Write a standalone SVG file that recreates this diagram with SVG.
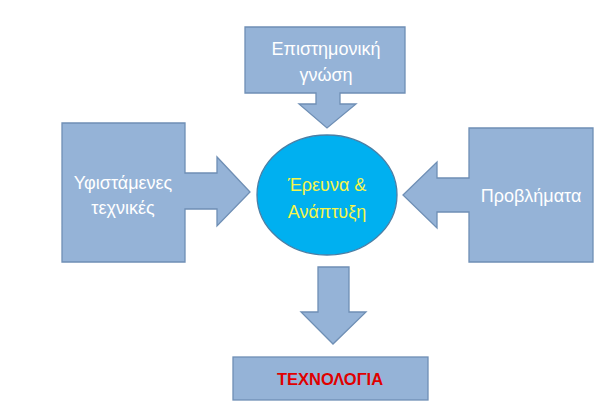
<svg xmlns="http://www.w3.org/2000/svg" width="608" height="416" viewBox="0 0 608 416">
<style>
.box{fill:#95b3d7;stroke:#6f8fb5;stroke-width:1.3}
.circ{fill:#00b0f0;stroke:#4a7fa6;stroke-width:1.3}
.t{font-family:"Liberation Sans","Noto Sans",sans-serif;font-size:18px;fill:#ffffff;text-anchor:middle}
.y{fill:#f5f54a}
.r{fill:#e00000;font-weight:bold;font-size:16.5px}
</style>
<rect width="608" height="416" fill="#ffffff"/>
<g id="epistimoniki">
<path class="box" d="M245,27 H405 V93 H340 V104 H356 L327,128 L299,104 H316 V93 H245 Z"/>
<text class="t" x="326" y="55">Επιστημονική</text>
<text class="t" x="326" y="81">γνώση</text>
</g>
<g id="yfistamenes">
<path class="box" d="M62,123 H185 V173 H217 V157 L250,192 L217,226 V209 H185 V262 H62 Z"/>
<text class="t" x="123" y="189">Υφιστάμενες</text>
<text class="t" x="123" y="214">τεχνικές</text>
</g>
<g id="provlimata">
<path class="box" d="M469,128 H593 V262 H469 V212 H437 V228 L403,195 L437,162 V178 H469 Z"/>
<text class="t" x="531" y="202">Προβλήματα</text>
</g>
<g id="erevna">
<ellipse class="circ" cx="327" cy="195" rx="70" ry="60"/>
<text class="t y" x="327" y="191">Έρευνα &amp;</text>
<text class="t y" x="327" y="218">Ανάπτυξη</text>
</g>
<g id="connectors">
<path class="box" d="M318,267 H349 V312 H366 L333,344 L301,312 H318 Z"/>
</g>
<g id="texnologia">
<rect class="box" x="233" y="357" width="195" height="43"/>
<text class="t r" x="330" y="385">ΤΕΧΝΟΛΟΓΙΑ</text>
</g>
</svg>
